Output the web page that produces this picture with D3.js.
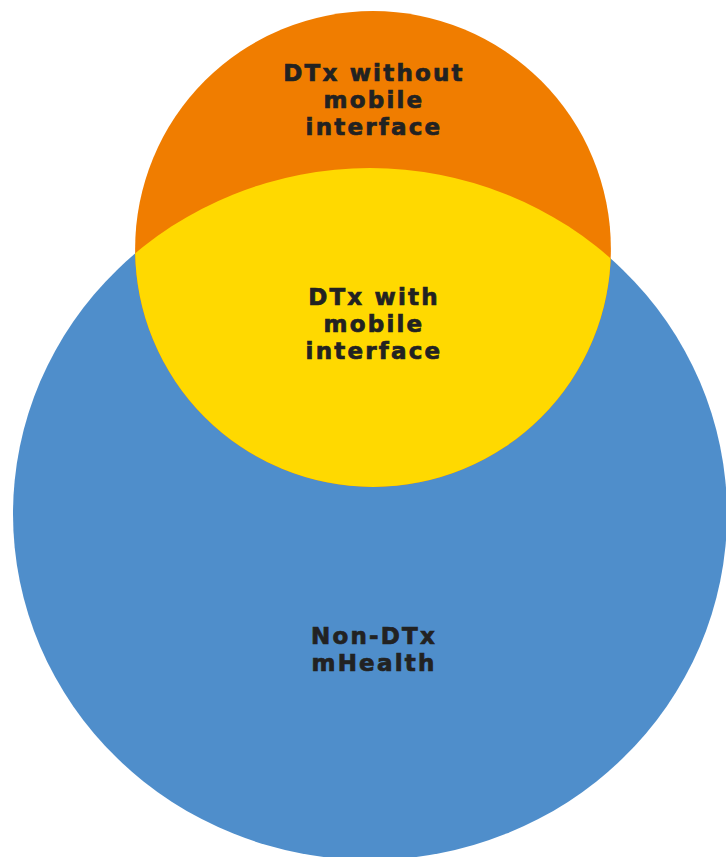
<!DOCTYPE html>
<html>
<head>
<meta charset="utf-8">
<script src="https://cdn.jsdelivr.net/npm/d3@7"></script>
<style>
  html, body { margin: 0; padding: 0; background: #fff; }
  svg { display: block; }
  .lbl { font-family: "DejaVu Sans", sans-serif; font-weight: bold; font-size: 23px; fill: #222; stroke: #222; stroke-width: 0.7px; letter-spacing: 2.2px; }
</style>
</head>
<body>
<svg id="venn"></svg>
<script>
// sets (relative area) and region labels
const setNames = ['mHealth', 'DTx']
const setSizes = [100, 44.4]
const setColors = ['#4f8ecb', '#f07d00']
const overlapColor = '#ffd900'
const regionLabels = [
  ['DTx without', 'mobile', 'interface'],
  ['DTx with', 'mobile', 'interface'],
  ['Non-DTx', 'mHealth']
]

const width = 726
const height = 857
const svg = d3.select('#venn')
  .attr('width', width)
  .attr('height', height)

const r = d3.scaleSqrt()
  .domain([0, 100])
  .range([0, 357])

// layout of the two sets
const centers = [[370, 514], [373, 249]]
const aspect = 0.969  // big set is slightly squashed vertically

const big = { cx: centers[0][0], cy: centers[0][1], rx: r(setSizes[0]), ry: r(setSizes[0]) * aspect }
const small = { cx: centers[1][0], cy: centers[1][1], r: r(setSizes[1]) }

svg.append('defs').append('clipPath')
  .attr('id', 'clip-dtx')
  .append('circle')
  .attr('cx', small.cx)
  .attr('cy', small.cy)
  .attr('r', small.r)

svg.append('ellipse')
  .attr('cx', big.cx).attr('cy', big.cy)
  .attr('rx', big.rx).attr('ry', big.ry)
  .attr('fill', setColors[0])

svg.append('circle')
  .attr('cx', small.cx).attr('cy', small.cy)
  .attr('r', small.r)
  .attr('fill', setColors[1])

svg.append('ellipse')
  .attr('clip-path', 'url(#clip-dtx)')
  .attr('cx', big.cx).attr('cy', big.cy)
  .attr('rx', big.rx).attr('ry', big.ry)
  .attr('fill', overlapColor)

// label anchors (first line baseline)
const labelPos = [[374, 81], [374, 305], [374, 644]]
const lineH = 27

regionLabels.forEach((lines, i) => {
  const t = svg.append('text')
    .attr('class', 'lbl')
    .attr('text-anchor', 'middle')
  lines.forEach((line, j) => {
    t.append('tspan')
      .attr('x', labelPos[i][0])
      .attr('y', labelPos[i][1] + j * lineH)
      .text(line)
  })
})
</script>
</body>
</html>
